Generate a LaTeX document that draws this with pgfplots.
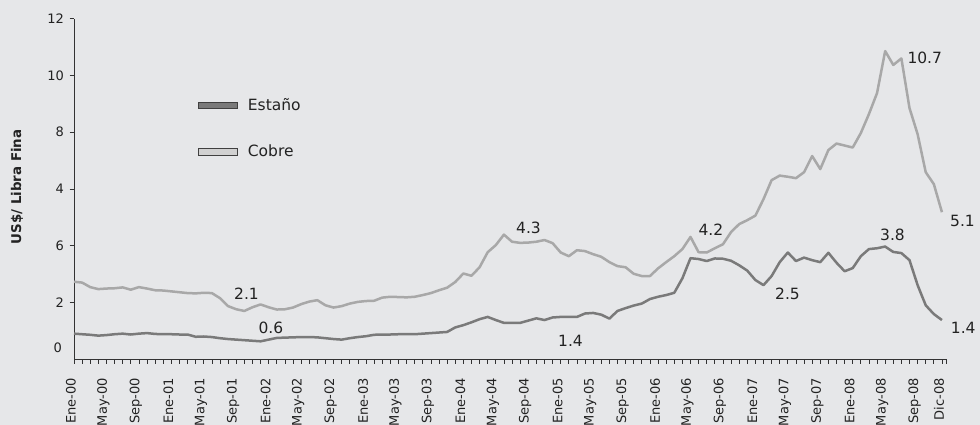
\documentclass[border=0pt]{standalone}
\usepackage{pgfplots}
\pgfplotsset{compat=1.18}
\usepackage{fontspec}
\setmainfont{DejaVu Sans}
\definecolor{bg}{HTML}{E6E7E9}
\definecolor{cobre}{HTML}{A8A8A8}
\definecolor{estano}{HTML}{7A7A7A}
\definecolor{txt}{HTML}{222222}
\newcommand\tfont{\fontsize{13}{15}\selectfont}
\newcommand\lfont{\fontsize{15.5}{18}\selectfont}
\begin{document}
\begin{tikzpicture}
\useasboundingbox (0,0) rectangle (980pt,425pt);
\fill[bg] (0,0) rectangle (980pt,425pt);
\begin{axis}[
  at={(74pt,65.8pt)}, anchor=south west, scale only axis,
  width=872pt, height=340.5pt,
  xmin=0, xmax=107.5, ymin=0, ymax=12,
  axis x line=bottom, axis y line=left,
  axis line style={-, draw=black!80, line width=0.8pt},
  tick align=outside, major tick length=4.5pt, minor tick length=4.5pt,
  tick style={black!80, line width=0.7pt},
  xtick={0,4,...,104,107},
  xticklabels={Ene-00,May-00,Sep-00,Ene-01,May-01,Sep-01,Ene-02,May-02,Sep-02,Ene-03,May-03,Sep-03,Ene-04,May-04,Sep-04,Ene-05,May-05,Sep-05,Ene-06,May-06,Sep-06,Ene-07,May-07,Sep-07,Ene-08,May-08,Sep-08,Dic-08},
  minor xtick={1,...,106,107.5},
  xticklabel style={yshift=-11pt, xshift=-3pt, rotate=90, anchor=east, font=\tfont, text=txt},
  ytick={2,4,...,12}, yticklabels={2,6,4,8,10,12},
  yticklabel style={xshift=-2pt, font=\tfont, text=txt},
  extra y ticks={0.42}, extra y tick labels={0},
  extra y tick style={major tick length=0pt, yticklabel style={xshift=-6.5pt}},
  /pgf/number format/assume math mode=true,
  clip=false,
]
\addplot[cobre, line width=2.5pt, line join=round, no markers] coordinates {
(0,2.73)(1,2.70)(2,2.54)(3,2.47)(4,2.49)(5,2.50)(6,2.53)(7,2.45)(8,2.54)(9,2.49)(10,2.43)(11,2.42)(12,2.39)(13,2.36)(14,2.33)(15,2.32)(16,2.34)(17,2.33)(18,2.15)(19,1.87)(20,1.76)(21,1.70)(22,1.83)(23,1.93)(24,1.83)(25,1.75)(26,1.76)(27,1.82)(28,1.94)(29,2.03)(30,2.08)(31,1.90)(32,1.82)(33,1.87)(34,1.96)(35,2.02)(36,2.05)(37,2.06)(38,2.17)(39,2.20)(40,2.19)(41,2.18)(42,2.20)(43,2.26)(44,2.33)(45,2.43)(46,2.52)(47,2.72)(48,3.02)(49,2.94)(50,3.24)(51,3.77)(52,4.02)(53,4.39)(54,4.14)(55,4.10)(56,4.11)(57,4.14)(58,4.20)(59,4.09)(60,3.76)(61,3.63)(62,3.84)(63,3.81)(64,3.70)(65,3.61)(66,3.42)(67,3.28)(68,3.24)(69,3.01)(70,2.93)(71,2.93)(72,3.20)(73,3.42)(74,3.63)(75,3.88)(76,4.31)(77,3.77)(78,3.76)(79,3.91)(80,4.05)(81,4.48)(82,4.76)(83,4.90)(84,5.06)(85,5.64)(86,6.31)(87,6.47)(88,6.43)(89,6.38)(90,6.59)(91,7.16)(92,6.70)(93,7.37)(94,7.60)(95,7.53)(96,7.46)(97,7.97)(98,8.64)(99,9.38)(100,10.86)(101,10.37)(102,10.60)(103,8.85)(104,7.93)(105,6.59)(106,6.17)(107,5.18)
};
\addplot[estano, line width=2.5pt, line join=round, no markers] coordinates {
(0,0.90)(1,0.88)(2,0.86)(3,0.83)(4,0.85)(5,0.88)(6,0.90)(7,0.87)(8,0.90)(9,0.92)(10,0.89)(11,0.88)(12,0.88)(13,0.87)(14,0.87)(15,0.79)(16,0.80)(17,0.78)(18,0.74)(19,0.71)(20,0.69)(21,0.67)(22,0.65)(23,0.63)(24,0.69)(25,0.75)(26,0.76)(27,0.77)(28,0.78)(29,0.78)(30,0.77)(31,0.74)(32,0.71)(33,0.69)(34,0.74)(35,0.78)(36,0.81)(37,0.86)(38,0.87)(39,0.87)(40,0.88)(41,0.88)(42,0.88)(43,0.90)(44,0.92)(45,0.94)(46,0.96)(47,1.12)(48,1.20)(49,1.30)(50,1.41)(51,1.49)(52,1.38)(53,1.28)(54,1.28)(55,1.28)(56,1.36)(57,1.44)(58,1.38)(59,1.47)(60,1.49)(61,1.49)(62,1.49)(63,1.61)(64,1.63)(65,1.57)(66,1.43)(67,1.70)(68,1.80)(69,1.89)(70,1.96)(71,2.12)(72,2.20)(73,2.26)(74,2.34)(75,2.85)(76,3.56)(77,3.53)(78,3.46)(79,3.55)(80,3.54)(81,3.47)(82,3.31)(83,3.12)(84,2.79)(85,2.61)(86,2.93)(87,3.42)(88,3.76)(89,3.46)(90,3.58)(91,3.49)(92,3.42)(93,3.75)(94,3.40)(95,3.10)(96,3.21)(97,3.63)(98,3.88)(99,3.91)(100,3.97)(101,3.78)(102,3.74)(103,3.49)(104,2.61)(105,1.90)(106,1.59)(107,1.38)
};
\end{axis}
% y axis title
\node[rotate=90, font=\fontsize{13.4}{16}\selectfont\bfseries, text=txt] at (17pt,238pt) {US\$/ Libra Fina};
% legend
\draw[black!75, line width=0.7pt, fill=estano] (198pt,316.7pt) rectangle (237pt,323pt);
\node[anchor=base west, inner sep=0pt, font=\lfont, text=txt] at (247.7pt,314.3pt) {Estaño};
\draw[black!75, line width=0.7pt, fill=black!18] (198pt,269.7pt) rectangle (237pt,276.3pt);
\node[anchor=base west, inner sep=0pt, font=\lfont, text=txt] at (247.7pt,268.3pt) {Cobre};
% data labels
\begin{scope}[every node/.style={anchor=base west, inner sep=0pt, font=\lfont, text=txt}]
\node at (907.3pt,361pt) {10.7};
\node at (950pt,198pt) {5.1};
\node at (880pt,184pt) {3.8};
\node at (950.7pt,91.7pt) {1.4};
\node at (775pt,125pt) {2.5};
\node at (698.3pt,189pt) {4.2};
\node at (516pt,191.7pt) {4.3};
\node at (558pt,78.3pt) {1.4};
\node at (234pt,125pt) {2.1};
\node at (258.3pt,91.7pt) {0.6};
\end{scope}
\end{tikzpicture}
\end{document}
